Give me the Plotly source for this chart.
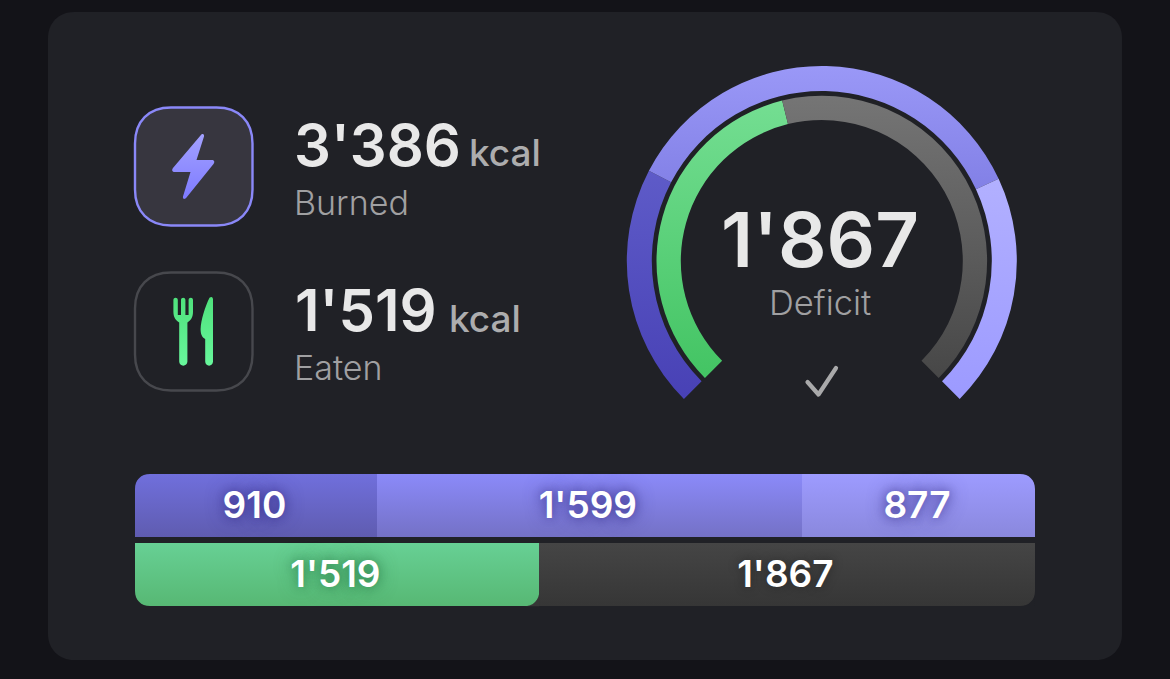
import json
import plotly.graph_objects as go

W, H = 1170, 679

# ---- data ----
BURNED_SEGMENTS = [910, 1599, 877]
EATEN_SEGMENTS = [1519, 1867]
BURNED_TOTAL = 3386
EATEN_TOTAL = 1519
DEFICIT = 1867
ROW_NAMES = ["Burned", "Eaten"]
UNIT = "kcal"
GAUGE_GAP = BURNED_TOTAL / 3  # the open quarter at the foot of the gauge


def fmt(v):
    return f"{v:,}".replace(",", "'")


def px(x):
    return x / W


def py(y):
    return 1 - y / H


def P(x, y):
    return f"{px(x):.6f},{py(y):.6f}"


def conv(cmds):
    """cmds: list of (letter, [x, y, x, y...]) in page pixels."""
    out = []
    for c, pts in cmds:
        pairs = [P(pts[i], pts[i + 1]) for i in range(0, len(pts), 2)]
        out.append(c + " ".join(pairs))
    return " ".join(out) + " Z"


def rounded(x0, y0, x1, y1, r, k=0.62):
    q = r * (1 - k)
    return conv([
        ("M", [x0 + r, y0]), ("L", [x1 - r, y0]),
        ("C", [x1 - q, y0, x1, y0 + q, x1, y0 + r]), ("L", [x1, y1 - r]),
        ("C", [x1, y1 - q, x1 - q, y1, x1 - r, y1]), ("L", [x0 + r, y1]),
        ("C", [x0 + q, y1, x0, y1 - q, x0, y1 - r]), ("L", [x0, y0 + r]),
        ("C", [x0, y0 + q, x0 + q, y0, x0 + r, y0]),
    ])


def corner(cx, cy, dx, dy, r, k=0.6):
    q = r * (1 - k)
    return conv([
        ("M", [cx, cy]), ("L", [cx + dx * r, cy]),
        ("C", [cx + dx * q, cy, cx, cy + dy * q, cx, cy + dy * r]),
    ])


CARD = "#202126"
fig = go.Figure()

# ---- stacked bars ----
bar_axis = dict(xaxis="x", yaxis="y", orientation="h", hoverinfo="skip",
                textposition="inside", insidetextanchor="middle", textangle=0,
                cliponaxis=False, constraintext="none")
purple_glow = "0 0 18px rgba(50,42,130,0.8), 0 0 8px rgba(50,42,130,0.45)"
green_glow = "0 0 18px rgba(30,110,60,0.7), 0 0 8px rgba(30,110,60,0.4)"
gray_glow = "0 0 10px rgba(20,20,20,0.5)"
bar_rows = [(ROW_NAMES[0], v, purple_glow) for v in BURNED_SEGMENTS] + \
           [(ROW_NAMES[1], EATEN_SEGMENTS[0], green_glow), (ROW_NAMES[1], EATEN_SEGMENTS[1], gray_glow)]
for row, v, glow in bar_rows:
    fig.add_trace(go.Bar(
        y=[row], x=[v], text=[fmt(v)], marker=dict(color="#777", line=dict(width=0)),
        textfont=dict(family="Inter", size=37, color="#ffffff", weight=600, shadow=glow),
        **bar_axis))

# ---- gauge rings ----
CX, CY = 821.8, 261


def ring(values, r_out, r_in, colors):
    return go.Pie(
        values=values, sort=False, direction="clockwise", rotation=225,
        hole=r_in / r_out, textinfo="none", hoverinfo="skip", showlegend=False,
        marker=dict(colors=colors, line=dict(width=0)),
        domain=dict(x=[px(CX - r_out), px(CX + r_out)], y=[py(CY + r_out), py(CY - r_out)]),
    )


fig.add_trace(ring(BURNED_SEGMENTS + [GAUGE_GAP], 195, 170,
                   ["#555", "#888", "#aaa", "rgba(0,0,0,0)"]))
fig.add_trace(ring(EATEN_SEGMENTS + [GAUGE_GAP], 165.3, 141,
                   ["#5c5", "#666", "rgba(0,0,0,0)"]))

# ---- shapes ----
shapes, shape_grads = [], {}


def add_shape(path, fill="rgba(0,0,0,0)", line=None, width=0, layer="above", grad=None):
    shapes.append(dict(type="path", xref="paper", yref="paper", path=path, fillcolor=fill,
                       line=dict(color=line or "rgba(0,0,0,0)", width=width), layer=layer))
    if grad:
        shape_grads[len(shapes) - 1] = grad


add_shape(rounded(48, 12, 1122, 660, 26, k=0.58), fill=CARD, layer="below")
add_shape(rounded(135, 107.5, 252.5, 225.5, 36), fill="#37363f", line="#8a88f8", width=2.4)
add_shape(rounded(135, 272.5, 252.5, 390.5, 36), fill=CARD, line="#47484d", width=2.4)

bolt = conv([
    ("M", [200.5, 135.5]), ("C", [202.5, 133, 204.5, 134, 204, 136.5]),
    ("L", [196.5, 160]), ("L", [211.5, 160]), ("C", [214.5, 160, 215, 162, 213.5, 164]),
    ("L", [186.5, 197.5]), ("C", [184.5, 200, 182.5, 199, 183, 196.5]),
    ("L", [190.5, 172]), ("L", [175, 172]), ("C", [172, 172, 171.5, 170, 173, 168]),
])
add_shape(bolt, fill="#8a88ff", grad="gBolt")

fork = conv([
    ("M", [173.4, 300]), ("C", [173.4, 297, 177.8, 297, 177.8, 300]), ("L", [177.8, 315]), ("L", [181, 315]),
    ("L", [181, 300]), ("C", [181, 297, 185.4, 297, 185.4, 300]), ("L", [185.4, 315]), ("L", [188.6, 315]),
    ("L", [188.6, 300]), ("C", [188.6, 297, 193, 297, 193, 300]), ("L", [193, 312]),
    ("C", [193, 318, 190, 321, 187.4, 322.5]), ("L", [187.4, 361.5]), ("C", [187.4, 367, 179.2, 367, 179.2, 361.5]),
    ("L", [179.2, 322.5]), ("C", [176.6, 321, 173.4, 318, 173.4, 312]),
])
add_shape(fork, fill="#5ceb88", grad="gFood")
knife = conv([
    ("M", [209.5, 297.8]), ("C", [211.5, 296.2, 213, 297, 213, 299.5]), ("L", [213, 361.5]),
    ("C", [213, 367, 205.2, 367, 205.2, 361.5]), ("L", [205.2, 339]),
    ("C", [202, 337.5, 200.6, 334, 200.6, 329]), ("C", [201, 320, 205, 307, 209.5, 297.8]),
])
add_shape(knife, fill="#5ceb88", grad="gFood")

# rounded bar corners
bar_left, bar_right = 135, 1035
split = bar_left + (bar_right - bar_left) * EATEN_SEGMENTS[0] / BURNED_TOTAL
add_shape(corner(bar_left, 474, 1, 1, 15), fill=CARD)
add_shape(corner(bar_right, 474, -1, 1, 15), fill=CARD)
add_shape(corner(bar_left, 606, 1, -1, 15), fill=CARD)
add_shape(corner(bar_right, 606, -1, -1, 15), fill=CARD)
add_shape(corner(split + 0.6, 606.3, -1, -1, 15.6), fill="#363636")

# check mark
shapes.append(dict(type="path", xref="paper", yref="paper", layer="above", fillcolor="rgba(0,0,0,0)",
                   path=f"M{P(807.5, 382)} L{P(818.5, 394.5)} L{P(836, 368)}",
                   line=dict(color="#a9a9aa", width=4.2)))
check_index = len(shapes) - 1


# ---- texts ----
def label(x, y, text, size, color, weight=400, anchor="left"):
    return dict(xref="paper", yref="paper", x=px(x), y=py(y), text=text, showarrow=False,
                xanchor=anchor, yanchor="middle", borderpad=0, borderwidth=0,
                font=dict(family="Inter", size=size, color=color, weight=weight))


annotations = [
    label(294, 145, fmt(BURNED_TOTAL), 58, "#e8e8e8", 600),
    label(469, 153, UNIT, 37, "#adadae", 500),
    label(294, 202, ROW_NAMES[0], 34, "#a0a0a2", 300),
    label(295, 310, fmt(EATEN_TOTAL), 58, "#e8e8e8", 600),
    label(449, 318, UNIT, 37, "#adadae", 500),
    label(294, 367, ROW_NAMES[1], 34, "#a0a0a2", 300),
    label(820, 239, fmt(DEFICIT), 76, "#e8e8e8", 600, anchor="center"),
    label(820.5, 302, "Deficit", 34.5, "#a0a0a2", 300, anchor="center"),
]

fig.update_layout(
    width=W, height=H, margin=dict(l=0, r=0, t=0, b=0), autosize=False,
    paper_bgcolor="#131318", plot_bgcolor="rgba(0,0,0,0)", showlegend=False,
    barmode="stack", bargap=6 / 69,
    xaxis=dict(domain=[px(bar_left), px(bar_right)], range=[0, BURNED_TOTAL], visible=False, fixedrange=True),
    yaxis=dict(domain=[py(609), py(471)], range=[1.5, -0.5], visible=False, fixedrange=True,
               type="category", categoryorder="array", categoryarray=ROW_NAMES),
    shapes=shapes, annotations=annotations,
)

gradients = {
    "gA1": ["#5e5bc8", "#4841b5"], "gA2": ["#9a98f7", "#8280e6"], "gA3": ["#b2b0ff", "#9c9aff"],
    "gB1": ["#74de92", "#43c463"], "gB2": ["#757575", "#474747"],
    "gBar1": ["#706fdc", "#5f5cb0"], "gBar2": ["#8b8af9", "#7471c6"], "gBar3": ["#9d9bff", "#8a88dd"],
    "gBar4": ["#67d094", "#57b874"], "gBar5": ["#454545", "#363636"],
    "gBolt": ["#a3a1ff", "#7e7bff"], "gFood": ["#4fe27c", "#68f79c"],
}
post = """
document.body.style.margin='0';
document.body.style.overflow='hidden';
var gd=document.getElementById('{plot_id}');
var G=%s, SG=%s, CHECK=%d;
var NS='http://www.w3.org/2000/svg';
var svg=gd.querySelector('svg.main-svg');
var defs=document.createElementNS(NS,'defs');
Object.keys(G).forEach(function(id){
  var g=document.createElementNS(NS,'linearGradient');
  g.setAttribute('id',id);g.setAttribute('x1','0');g.setAttribute('y1','0');g.setAttribute('x2','0');g.setAttribute('y2','1');
  [[0,G[id][0]],[1,G[id][1]]].forEach(function(s){
    var st=document.createElementNS(NS,'stop');st.setAttribute('offset',s[0]);st.setAttribute('stop-color',s[1]);g.appendChild(st);
  });
  defs.appendChild(g);
});
svg.insertBefore(defs,svg.firstChild);
function paint(el,id){ if(el) el.style.setProperty('fill','url(#'+id+')'); }
var pies=gd.querySelectorAll('.pielayer .trace');
var names=[['gA1','gA2','gA3'],['gB1','gB2']];
pies.forEach(function(t,i){
  t.querySelectorAll('.slice path.surface').forEach(function(p,j){ if(names[i][j]) paint(p,names[i][j]); });
});
var bars=gd.querySelectorAll('.barlayer .point path');
bars.forEach(function(p,i){ paint(p,'gBar'+(i+1)); });
gd.querySelectorAll('.barlayer text.bartext').forEach(function(t){
  var tr=t.getAttribute('transform')||'';
  t.setAttribute('transform','translate(-1.5,-1) '+tr);
});
var shp=gd.querySelectorAll('.layer-above .shapelayer path, .layer-below .shapelayer path');
shp.forEach(function(p){
  var idx=p.getAttribute('data-index');
  if(SG[idx]) paint(p,SG[idx]);
  if(String(idx)===String(CHECK)){ p.style.strokeLinecap='round'; p.style.strokeLinejoin='round'; }
});
""" % (json.dumps(gradients), json.dumps({str(k): v for k, v in shape_grads.items()}), check_index)

fig.write_html("out.html", config={"displayModeBar": False, "responsive": False}, post_script=post)
